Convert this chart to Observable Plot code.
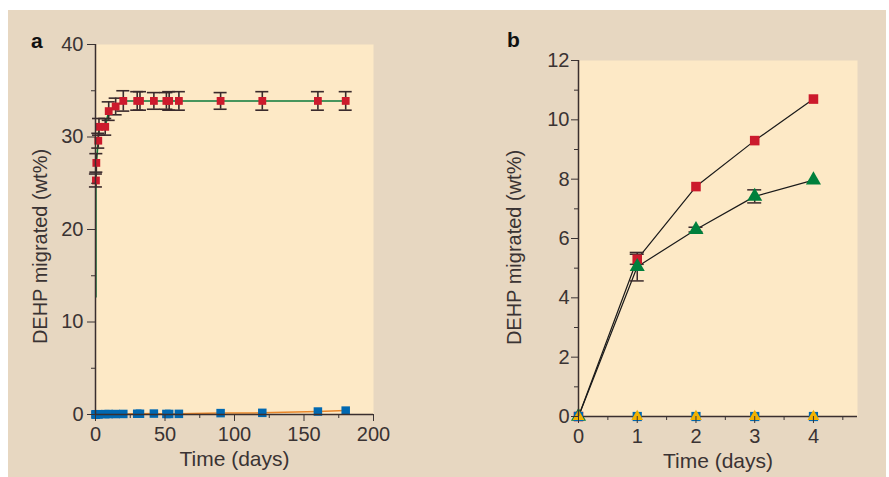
<!DOCTYPE html>
<html><head><meta charset="utf-8">
<script src="https://cdn.jsdelivr.net/npm/d3@7"></script>
<script src="https://cdn.jsdelivr.net/npm/@observablehq/plot@0.6"></script>
<style>
body{margin:0;background:#fff;}
#wrap{position:relative;width:889px;height:477px;overflow:hidden;background:#fff;}
#bg{position:absolute;left:8px;top:10px;width:878px;height:467px;background:#e7d7c1;}
.panel{position:absolute;top:0;}
.lab{position:absolute;font:bold 21px "Liberation Sans",Arial,sans-serif;color:#111;line-height:1;}
</style></head><body>
<div id="wrap"><div id="bg"></div><div id="pa" class="panel" style="left:0"></div><div id="pb" class="panel" style="left:445px"></div><div class="lab" style="left:31px;top:30px">a</div><div class="lab" style="left:507px;top:29px">b</div></div>
<script>
// ---- Panel a data (time in days, DEHP migrated wt%) ----
const daysA  = [0, 0.3, 0.6, 2, 2.5, 7, 9.5, 14.5, 20, 30, 32, 42, 51, 53, 60, 90, 120, 160, 180];
const redA   = [0, 25.3, 27.2, 29.6, 31.1, 31.1, 32.8, 33.3, 33.9, 33.9, 33.9, 33.9, 33.9, 33.9, 33.9, 33.9, 33.9, 33.9, 33.9];
const errA   = [0, 0.7, 1.0, 0.8, 0.9, 0.9, 1.0, 0.9, 1.1, 1.0, 1.0, 0.9, 0.9, 1.0, 1.0, 0.9, 1.0, 1.0, 1.0];
const blueA  = [0, 0.02, 0.02, 0.03, 0.03, 0.04, 0.05, 0.05, 0.06, 0.08, 0.08, 0.1, 0.06, 0.06, 0.07, 0.15, 0.18, 0.32, 0.42];
const greenLineDaysA = [0.3, 0.3, 0.6, 2, 2.5, 7, 9.5, 14.5, 20, 30, 42, 60, 90, 120, 160, 180];
const greenLineValsA = [12.7, 25.3, 27.2, 29.6, 31.1, 31.1, 32.8, 33.3, 33.9, 33.9, 33.9, 33.9, 33.9, 33.9, 33.9, 33.9];
const xTicksA = [0, 50, 100, 150, 200], xMinorA = [25, 75, 125, 175];
const yTicksA = [0, 10, 20, 30, 40], yMinorA = [5, 15, 25, 35];

// ---- Panel b data ----
const daysB    = [0, 1, 2, 3, 4];
const redB     = [0, 5.3, 7.75, 9.3, 10.7];
const redErrB  = [0, 0.17, 0, 0, 0];
const greenB   = [0, 5.05, 6.3, 7.42, 7.97];
const greenErrB= [0, 0.48, 0.08, 0.22, 0];
const blueB    = [0, 0, 0, 0, 0];
const yellowB  = [0, 0, 0, 0, 0];
const xTicksB = [0, 1, 2, 3, 4], xMinorB = [0.5, 1.5, 2.5, 3.5, 4.5];
const yTicksB = [0, 2, 4, 6, 8, 10, 12], yMinorB = [1, 3, 5, 7, 9, 11];

const xLabel = "Time (days)";
const yLabel = "DEHP migrated (wt%)";

const font = '"Liberation Sans", Arial, sans-serif';
const axisColor = "#3a2f2f";
const errColor = "#3a2a2c";
const plotBg = "#fde9c6";
const RED = "#cc1a2c", BLUE = "#0068b1", GREEN = "#00803c", ORANGE = "#e8862a", YELLOW = "#f2b200";
const fmt = d => String(d);

const A = daysA.map((t, i) => ({t, red: redA[i], err: errA[i], blue: blueA[i]}));
const GA = greenLineDaysA.map((t, i) => ({t, v: greenLineValsA[i]}));
const AE = A.filter(d => d.err > 0);

const pa = Plot.plot({
  width: 445, height: 477, marginLeft: 95, marginRight: 72, marginTop: 44, marginBottom: 63,
  style: {background: "transparent", fontFamily: font, fontSize: "20px", color: "#3a3333"},
  x: {domain: [0, 200]}, y: {domain: [0, 40]},
  marks: [
    Plot.frame({fill: plotBg, stroke: "none"}),
    Plot.line(GA, {x: "t", y: "v", stroke: "#0b7a3b", strokeWidth: 1.6}),
    Plot.line(A, {x: "t", y: "blue", stroke: ORANGE, strokeWidth: 1.5}),
    Plot.ruleX(AE, {x: "t", y1: d => d.red - d.err, y2: d => d.red + d.err, stroke: errColor, strokeWidth: 1.6}),
    Plot.ruleY(AE, {y: d => d.red + d.err, x1: "t", x2: "t", insetLeft: -6.5, insetRight: -6.5, stroke: errColor, strokeWidth: 1.6}),
    Plot.ruleY(AE, {y: d => d.red - d.err, x1: "t", x2: "t", insetLeft: -6.5, insetRight: -6.5, stroke: errColor, strokeWidth: 1.6}),
    Plot.dot(A, {x: "t", y: "red", symbol: "square", r: 4.4, fill: RED}),
    Plot.dot(A, {x: "t", y: "blue", symbol: "square", r: 4.8, fill: BLUE}),
    Plot.axisX({ticks: xTicksA, tickSize: 7, tickPadding: 5, tickFormat: fmt, label: null}),
    Plot.axisX({ticks: xMinorA, tickSize: 4, tickFormat: () => "", label: null}),
    Plot.axisY({ticks: yTicksA, tickSize: 8, tickPadding: 4, tickFormat: fmt, label: null}),
    Plot.axisY({ticks: yMinorA, tickSize: 4, tickFormat: () => "", label: null}),
    Plot.ruleX([0], {stroke: axisColor, strokeWidth: 1.5}),
    Plot.ruleY([0], {stroke: axisColor, strokeWidth: 1.5}),
    Plot.text([xLabel], {text: d => d, frameAnchor: "bottom", textAnchor: "middle", lineAnchor: "middle", dy: 45, fontSize: 21}),
    Plot.text([yLabel], {text: d => d, frameAnchor: "left", textAnchor: "middle", lineAnchor: "middle", dx: -55, dy: 17, rotate: -90, fontSize: 20})
  ]
});
document.getElementById("pa").append(pa);

const B = daysB.map((t, i) => ({t, red: redB[i], rerr: redErrB[i], green: greenB[i], gerr: greenErrB[i], blue: blueB[i], yellow: yellowB[i]}));
const BR = B.filter(d => d.rerr > 0), BG = B.filter(d => d.gerr > 0);

const pb = Plot.plot({
  width: 444, height: 477, marginLeft: 133, marginRight: 32, marginTop: 60, marginBottom: 61,
  style: {background: "transparent", fontFamily: font, fontSize: "20px", color: "#3a3333"},
  x: {domain: [0, 4.75]}, y: {domain: [0, 12]},
  marks: [
    Plot.frame({fill: plotBg, stroke: "none"}),
    Plot.line(B, {x: "t", y: "red", stroke: "#1a1a1a", strokeWidth: 1.2}),
    Plot.line(B, {x: "t", y: "green", stroke: "#1a1a1a", strokeWidth: 1.2}),
    Plot.ruleX(BR, {x: "t", y1: d => d.red - d.rerr, y2: d => d.red + d.rerr, stroke: errColor, strokeWidth: 1.5}),
    Plot.ruleY(BR, {y: d => d.red + d.rerr, x1: "t", x2: "t", insetLeft: -7, insetRight: -7, stroke: errColor, strokeWidth: 1.5}),
    Plot.ruleY(BR, {y: d => d.red - d.rerr, x1: "t", x2: "t", insetLeft: -7, insetRight: -7, stroke: errColor, strokeWidth: 1.5}),
    Plot.ruleX(BG, {x: "t", y1: d => d.green - d.gerr, y2: d => d.green + d.gerr, stroke: errColor, strokeWidth: 1.5}),
    Plot.ruleY(BG, {y: d => d.green + d.gerr, x1: "t", x2: "t", insetLeft: -7, insetRight: -7, stroke: errColor, strokeWidth: 1.5}),
    Plot.ruleY(BG, {y: d => d.green - d.gerr, x1: "t", x2: "t", insetLeft: -7, insetRight: -7, stroke: errColor, strokeWidth: 1.5}),
    Plot.dot(B, {x: "t", y: "red", symbol: "square", r: 5.4, fill: RED}),
    Plot.dot(B, {x: "t", y: "green", symbol: "triangle", r: 5.6, fill: GREEN}),
    Plot.ruleY([0], {stroke: axisColor, strokeWidth: 1.5}),
    Plot.dot(B, {x: "t", y: "blue", symbol: "square", r: 5.2, fill: BLUE}),
    Plot.dot(B, {x: "t", y: "yellow", symbol: "triangle", r: 4.4, fill: YELLOW}),
    Plot.axisX({ticks: xTicksB, tickSize: 7, tickPadding: 5, tickFormat: fmt, label: null}),
    Plot.axisX({ticks: xMinorB, tickSize: 4, tickFormat: () => "", label: null}),
    Plot.axisY({ticks: yTicksB, tickSize: 7, tickPadding: 2, tickFormat: fmt, label: null}),
    Plot.axisY({ticks: yMinorB, tickSize: 4, tickFormat: () => "", label: null}),
    Plot.ruleX([0], {stroke: axisColor, strokeWidth: 1.5}),
    Plot.text([xLabel], {text: d => d, frameAnchor: "bottom", textAnchor: "middle", lineAnchor: "middle", dy: 45, fontSize: 21}),
    Plot.text([yLabel], {text: d => d, frameAnchor: "left", textAnchor: "middle", lineAnchor: "middle", dx: -64, dy: 9, rotate: -90, fontSize: 20})
  ]
});
document.getElementById("pb").append(pb);
</script>
</body></html>
